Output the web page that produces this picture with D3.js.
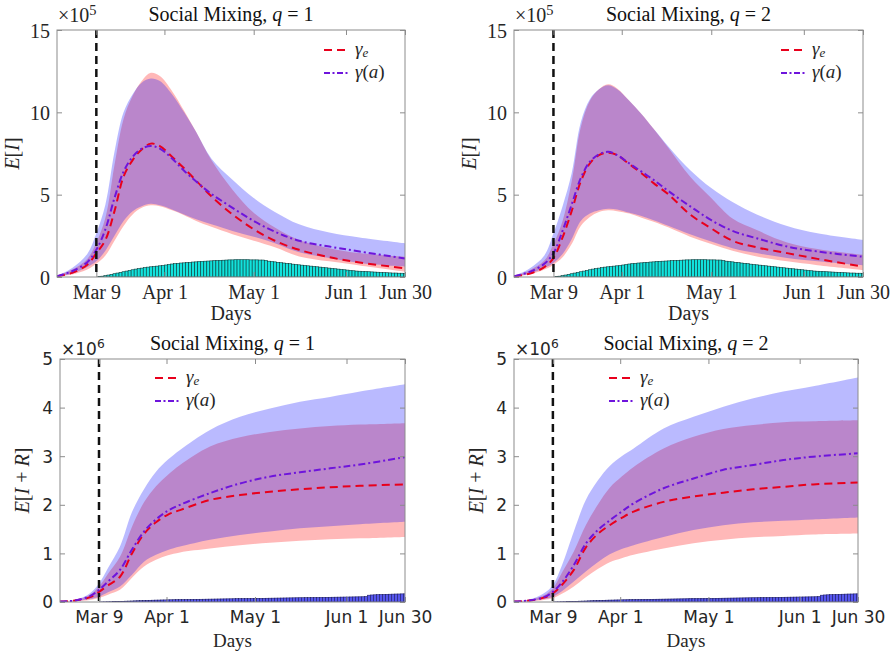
<!DOCTYPE html>
<html>
<head>
<meta charset="utf-8">
<script src="https://cdn.jsdelivr.net/npm/d3@7/dist/d3.min.js"></script>
<style>
body { margin: 0; background: #fff; }
</style>
</head>
<body>
<svg id="chart" width="895" height="653"></svg>
<script>
// days since the start of the simulation (Mar 9 = day 13)
var xTickDays = [13, 35.5, 65, 95.5, 115];
var xTickLabels = ["Mar 9", "Apr 1", "May 1", "Jun 1", "Jun 30"];
var topYTicks = [0, 5, 10, 15];
var bottomYTicks = [0, 1, 2, 3, 4, 5];

// E[I] panels, values in units of 1e5
var topDays = [0, 5, 10, 13, 16, 19, 22, 25, 28, 31, 34, 38, 42, 46, 51, 58, 65, 72, 80, 90, 100, 115];

var q1InfRed    = [0.05, 0.25, 0.75, 1.45, 2.25, 4.0, 6.1, 7.1, 7.75, 8.1, 7.95, 7.3, 6.6, 5.85, 4.9, 3.8, 2.9, 2.2, 1.65, 1.2, 0.88, 0.53];
var q1InfPurple = [0.05, 0.35, 0.9, 1.65, 2.9, 4.8, 6.4, 7.3, 7.8, 7.95, 7.8, 7.2, 6.45, 5.8, 5.05, 4.2, 3.4, 2.75, 2.2, 1.85, 1.55, 1.13];
var q1InfRedLo  = [0.03, 0.15, 0.45, 0.8, 1.3, 2.2, 3.1, 3.8, 4.2, 4.35, 4.3, 4.05, 3.75, 3.4, 3.05, 2.6, 2.2, 1.8, 1.25, 0.95, 0.7, 0.32];
var q1InfRedHi  = [0.05, 0.45, 1.1, 2.1, 3.6, 6.8, 9.6, 11.0, 11.9, 12.4, 12.2, 11.3, 10.1, 8.8, 7.1, 5.3, 3.9, 3.0, 2.25, 1.75, 1.45, 1.23];
var q1InfBlueLo = [0.03, 0.2, 0.6, 0.95, 1.6, 2.5, 3.4, 4.0, 4.3, 4.45, 4.35, 4.1, 3.8, 3.5, 3.2, 2.8, 2.45, 2.05, 1.5, 1.15, 0.85, 0.63];
var q1InfBlueHi = [0.06, 0.55, 1.4, 2.65, 4.4, 7.6, 10.0, 11.1, 11.8, 12.05, 11.9, 11.1, 10.0, 8.8, 7.2, 5.9, 4.8, 3.95, 3.2, 2.7, 2.4, 2.05];

var q2InfRed    = [0.05, 0.2, 0.6, 1.15, 2.4, 4.0, 5.8, 6.9, 7.4, 7.55, 7.4, 6.85, 6.3, 5.7, 5.0, 3.8, 2.95, 2.2, 1.8, 1.45, 1.1, 0.63];
var q2InfPurple = [0.05, 0.3, 0.8, 1.45, 2.8, 4.4, 6.0, 7.0, 7.45, 7.6, 7.4, 6.9, 6.4, 5.9, 5.2, 4.3, 3.45, 2.8, 2.35, 1.85, 1.55, 1.23];
var q2InfRedLo  = [0.02, 0.15, 0.45, 0.75, 1.2, 2.0, 3.1, 3.65, 3.95, 4.05, 4.0, 3.85, 3.6, 3.35, 3.0, 2.45, 2.0, 1.6, 1.25, 0.95, 0.72, 0.43];
var q2InfRedHi  = [0.05, 0.4, 1.0, 2.0, 3.4, 5.8, 9.1, 10.7, 11.4, 11.7, 11.45, 10.7, 9.9, 9.0, 7.8, 6.1, 4.8, 3.55, 2.85, 2.1, 1.7, 1.35];
var q2InfBlueLo = [0.03, 0.2, 0.55, 0.85, 1.4, 2.3, 3.4, 3.85, 4.05, 4.15, 4.1, 3.9, 3.7, 3.45, 3.1, 2.6, 2.15, 1.75, 1.45, 1.15, 0.95, 0.7];
var q2InfBlueHi = [0.06, 0.5, 1.3, 2.65, 4.3, 6.3, 9.4, 10.8, 11.4, 11.65, 11.4, 10.7, 9.9, 9.0, 7.9, 6.5, 5.4, 4.55, 3.8, 3.1, 2.65, 2.25];

// E[I + R] panels, values in units of 1e6
var bottomDays = [0, 5, 10, 13, 16, 20, 24, 28, 32, 36, 40, 50, 60, 70, 80, 90, 100, 115];

var q1CumRed    = [0.01, 0.03, 0.1, 0.21, 0.34, 0.52, 1.0, 1.4, 1.64, 1.8, 1.89, 2.1, 2.2, 2.27, 2.32, 2.36, 2.39, 2.42];
var q1CumPurple = [0.01, 0.03, 0.12, 0.25, 0.42, 0.66, 1.08, 1.45, 1.7, 1.88, 2.0, 2.24, 2.44, 2.58, 2.67, 2.75, 2.83, 2.98];
var q1CumRedLo  = [0.005, 0.015, 0.04, 0.08, 0.15, 0.25, 0.5, 0.73, 0.87, 0.96, 1.02, 1.1, 1.17, 1.22, 1.26, 1.29, 1.31, 1.34];
var q1CumRedHi  = [0.01, 0.04, 0.15, 0.32, 0.58, 0.93, 1.55, 2.05, 2.38, 2.62, 2.82, 3.2, 3.39, 3.5, 3.57, 3.62, 3.65, 3.68];
var q1CumBlueLo = [0.005, 0.02, 0.06, 0.11, 0.2, 0.32, 0.56, 0.83, 0.97, 1.07, 1.14, 1.28, 1.38, 1.45, 1.52, 1.56, 1.6, 1.65];
var q1CumBlueHi = [0.01, 0.04, 0.18, 0.38, 0.7, 1.14, 1.85, 2.32, 2.68, 2.93, 3.13, 3.54, 3.81, 3.98, 4.12, 4.22, 4.33, 4.48];

var q2CumRed    = [0.01, 0.03, 0.09, 0.18, 0.35, 0.66, 1.12, 1.4, 1.58, 1.73, 1.86, 2.06, 2.17, 2.25, 2.32, 2.37, 2.42, 2.46];
var q2CumPurple = [0.01, 0.03, 0.1, 0.21, 0.4, 0.76, 1.2, 1.48, 1.68, 1.86, 2.03, 2.34, 2.54, 2.72, 2.82, 2.92, 2.99, 3.06];
var q2CumRedLo  = [0.005, 0.015, 0.04, 0.08, 0.17, 0.32, 0.51, 0.68, 0.82, 0.9, 0.97, 1.1, 1.21, 1.28, 1.33, 1.36, 1.39, 1.41];
var q2CumRedHi  = [0.01, 0.04, 0.14, 0.28, 0.6, 1.04, 1.58, 2.0, 2.35, 2.58, 2.78, 3.16, 3.4, 3.56, 3.64, 3.7, 3.72, 3.74];
var q2CumBlueLo = [0.005, 0.02, 0.06, 0.11, 0.22, 0.42, 0.63, 0.82, 0.98, 1.09, 1.17, 1.34, 1.48, 1.58, 1.64, 1.67, 1.7, 1.74];
var q2CumBlueHi = [0.01, 0.05, 0.18, 0.35, 0.75, 1.45, 2.1, 2.5, 2.8, 3.0, 3.16, 3.57, 3.81, 4.02, 4.19, 4.33, 4.44, 4.62];

// reported data, one bar per day from day 13 (Mar 9) to day 115
var caseStartDay = 13;
var activeCases = [ // 1e5
	0.00, 0.02, 0.05, 0.08, 0.12, 0.16, 0.20, 0.24, 0.28, 0.32,
	0.36, 0.40, 0.44, 0.48, 0.51, 0.54, 0.57, 0.60, 0.62, 0.64,
	0.66, 0.68, 0.70, 0.73, 0.76, 0.79, 0.81, 0.83, 0.85, 0.86,
	0.88, 0.89, 0.91, 0.92, 0.94, 0.95, 0.96, 0.97, 0.98, 0.99,
	1.00, 1.01, 1.02, 1.03, 1.04, 1.04, 1.05, 1.05, 1.05, 1.05,
	1.05, 1.04, 1.04, 1.04, 1.03, 1.03, 1.00, 0.96, 0.94, 0.92,
	0.89, 0.87, 0.85, 0.83, 0.81, 0.78, 0.76, 0.74, 0.72, 0.70,
	0.68, 0.66, 0.64, 0.62, 0.60, 0.58, 0.56, 0.54, 0.52, 0.50,
	0.48, 0.46, 0.44, 0.42, 0.40, 0.38, 0.36, 0.35, 0.34, 0.33,
	0.32, 0.31, 0.30, 0.29, 0.28, 0.27, 0.26, 0.25, 0.24, 0.24,
	0.23, 0.23, 0.22
];
var cumCases = [ // 1e6
	0.000, 0.002, 0.003, 0.005, 0.006, 0.008, 0.010, 0.012,
	0.014, 0.017, 0.019, 0.021, 0.024, 0.026, 0.028, 0.031, 0.033, 0.035,
	0.037, 0.039, 0.040, 0.042, 0.043, 0.045, 0.046, 0.047, 0.048, 0.049,
	0.050, 0.051, 0.052, 0.053, 0.054, 0.055, 0.056, 0.057, 0.058, 0.059,
	0.060, 0.061, 0.062, 0.063, 0.064, 0.065, 0.066, 0.067, 0.068, 0.069,
	0.069, 0.070, 0.071, 0.072, 0.073, 0.074, 0.075, 0.076, 0.077, 0.078,
	0.079, 0.080, 0.081, 0.082, 0.083, 0.084, 0.085, 0.086, 0.087, 0.088,
	0.088, 0.089, 0.090, 0.091, 0.092, 0.093, 0.094, 0.095, 0.096, 0.097,
	0.098, 0.099, 0.100, 0.101, 0.102, 0.103, 0.104, 0.105, 0.106, 0.107,
	0.108, 0.112, 0.140, 0.145, 0.148, 0.151, 0.154, 0.156, 0.158, 0.160,
	0.162, 0.164, 0.165, 0.167, 0.168
];

var svg = d3.select("#chart");
var serif = "'Liberation Serif', 'DejaVu Serif', serif";
var sans = "'DejaVu Sans', sans-serif";
var smooth = d3.curveCatmullRom.alpha(0.5);
var panelCount = 0;

function drawPanel(p)
{
	var x = d3.scaleLinear().domain([0, 115]).range([p.left, p.right]);
	var y = d3.scaleLinear().domain([0, p.yMax]).range([p.bottom, p.top]);
	var g = svg.append("g");
	var clipId = "clip" + (panelCount++);

	g.append("clipPath").attr("id", clipId)
		.append("rect")
		.attr("x", p.left).attr("y", p.top)
		.attr("width", p.right - p.left).attr("height", p.bottom - p.top);

	var plot = g.append("g").attr("clip-path", "url(#" + clipId + ")");

	var rows = p.days.map(function(d, i)
	{
		return {day: d, red: p.red[i], purple: p.purple[i], redLo: p.redLo[i], redHi: p.redHi[i], blueLo: p.blueLo[i], blueHi: p.blueHi[i]};
	});

	var band = function(lo, hi)
	{
		return d3.area().curve(smooth)
			.x(function(d) { return x(d.day); })
			.y0(function(d) { return y(d[lo]); })
			.y1(function(d) { return y(d[hi]); });
	};

	plot.append("path").datum(rows).attr("d", band("redLo", "redHi"))
		.attr("fill", "#ff0000").attr("fill-opacity", 0.28);
	plot.append("path").datum(rows).attr("d", band("blueLo", "blueHi"))
		.attr("fill", "#0000ff").attr("fill-opacity", 0.27);

	// daily bars
	var barW = x(1) - x(0);
	plot.selectAll("rect.bar").data(p.bars).enter().append("rect")
		.classed("bar", 1)
		.attr("x", function(d, i) { return x(caseStartDay + i - 0.5); })
		.attr("y", function(d) { return y(d); })
		.attr("width", barW)
		.attr("height", function(d) { return y(0) - y(d); })
		.attr("fill", p.barFill)
		.attr("stroke", p.barEdge)
		.attr("stroke-width", 0.6);

	var line = function(key)
	{
		return d3.line().curve(smooth)
			.x(function(d) { return x(d.day); })
			.y(function(d) { return y(d[key]); });
	};

	plot.append("path").datum(rows).attr("d", line("red"))
		.attr("fill", "none").attr("stroke", "#e8001c").attr("stroke-width", 2)
		.attr("stroke-dasharray", "8,5");
	plot.append("path").datum(rows).attr("d", line("purple"))
		.attr("fill", "none").attr("stroke", "#6e14dc").attr("stroke-width", 2)
		.attr("stroke-dasharray", "7,3,2,3");

	// Mar 9 marker
	g.append("line")
		.attr("x1", x(caseStartDay)).attr("x2", x(caseStartDay))
		.attr("y1", p.top).attr("y2", p.bottom)
		.attr("stroke", "#111").attr("stroke-width", 2.5)
		.attr("stroke-dasharray", "8,5");

	// box and inward ticks
	g.append("rect")
		.attr("x", p.left).attr("y", p.top)
		.attr("width", p.right - p.left).attr("height", p.bottom - p.top)
		.attr("fill", "none").attr("stroke", "#8c8c8c").attr("stroke-width", 1);

	var bottomAxis = g.append("g").attr("transform", "translate(0," + p.bottom + ")")
		.call(d3.axisBottom(x).tickValues(xTickDays)
			.tickFormat(function(d, i) { return xTickLabels[i]; })
			.tickSizeInner(-5).tickSizeOuter(0));
	var topAxis = g.append("g").attr("transform", "translate(0," + p.top + ")")
		.call(d3.axisTop(x).tickValues(xTickDays).tickFormat("").tickSizeInner(-5).tickSizeOuter(0));
	var leftAxis = g.append("g").attr("transform", "translate(" + p.left + ",0)")
		.call(d3.axisLeft(y).tickValues(p.yTicks).tickFormat(d3.format("d")).tickSizeInner(-5).tickSizeOuter(0));
	var rightAxis = g.append("g").attr("transform", "translate(" + p.right + ",0)")
		.call(d3.axisRight(y).tickValues(p.yTicks).tickFormat("").tickSizeInner(-5).tickSizeOuter(0));

	[bottomAxis, topAxis, leftAxis, rightAxis].forEach(function(a)
	{
		a.select(".domain").remove();
		a.selectAll(".tick line").attr("stroke", "#8c8c8c");
		a.selectAll("text").attr("fill", "#262626");
	});

	bottomAxis.attr("font-family", p.tickFont).attr("font-size", p.tickSize);
	bottomAxis.selectAll("text").attr("dy", null).attr("y", p.xLabelDy);
	leftAxis.attr("font-family", p.tickFont).attr("font-size", p.tickSize);
	leftAxis.selectAll("text").attr("x", -7).attr("dy", "0.35em");

	// exponent
	var expo = g.append("text")
		.attr("x", p.left + 1).attr("y", p.top - p.expoDy)
		.attr("font-family", p.tickFont).attr("font-size", p.expoSize)
		.attr("fill", "#262626");
	expo.append("tspan").text("\u00d710");
	expo.append("tspan").attr("dy", -7).attr("font-size", p.expoSize * 0.72).text(p.expo);

	// title
	var title = g.append("text")
		.attr("x", (p.left + p.right) / 2).attr("y", p.top - 9)
		.attr("text-anchor", "middle")
		.attr("font-family", serif).attr("font-size", 20).attr("fill", "#111");
	title.append("tspan").text("Social Mixing, ");
	title.append("tspan").attr("font-style", "italic").text("q");
	title.append("tspan").text(" = " + p.q);

	// x label
	g.append("text")
		.attr("x", (p.left + p.right) / 2).attr("y", p.bottom + p.daysDy)
		.attr("text-anchor", "middle")
		.attr("font-family", serif).attr("font-size", p.daysSize).attr("fill", "#262626")
		.text("Days");

	// y label
	var yl = g.append("text")
		.attr("transform", "translate(" + (p.left - p.yLabelDx) + "," + ((p.top + p.bottom) / 2) + ") rotate(-90)")
		.attr("text-anchor", "middle")
		.attr("font-family", serif).attr("font-size", 20).attr("fill", "#262626");
	p.yLabel.forEach(function(part)
	{
		yl.append("tspan").attr("font-style", part[1] ? "italic" : "normal").text(part[0]);
	});

	// legend
	var lx = p.left + p.legendDx;
	var ly = p.top + p.legendDy;
	var leg = g.append("g");
	leg.append("line").attr("x1", lx).attr("x2", lx + 25).attr("y1", ly).attr("y2", ly)
		.attr("stroke", "#e8001c").attr("stroke-width", 2).attr("stroke-dasharray", "8,5");
	leg.append("line").attr("x1", lx).attr("x2", lx + 25).attr("y1", ly + 23).attr("y2", ly + 23)
		.attr("stroke", "#6e14dc").attr("stroke-width", 2).attr("stroke-dasharray", "6,2.5,2,2.5");

	var t1 = leg.append("text").attr("x", lx + 31).attr("y", ly + 5)
		.attr("font-family", serif).attr("font-size", 19).attr("fill", "#262626");
	t1.append("tspan").attr("font-style", "italic").text("\u03b3");
	t1.append("tspan").attr("font-style", "italic").attr("font-size", 13).attr("dy", 2).text("e");

	var t2 = leg.append("text").attr("x", lx + 31).attr("y", ly + 28)
		.attr("font-family", serif).attr("font-size", 19).attr("fill", "#262626");
	t2.append("tspan").attr("font-style", "italic").text("\u03b3");
	t2.append("tspan").text("(");
	t2.append("tspan").attr("font-style", "italic").text("a");
	t2.append("tspan").text(")");
}

var topCommon = {
	yMax: 15, yTicks: topYTicks, days: topDays, top: 30, bottom: 277,
	bars: activeCases, barFill: "#12e2dc", barEdge: "#0b3a3a",
	tickFont: serif, tickSize: 20, expoSize: 20, xLabelDy: 22, expoDy: 8, expo: "5",
	daysDy: 43, daysSize: 20,
	yLabel: [["E", 1], ["[", 0], ["I", 1], ["]", 0]], yLabelDx: 38,
	legendDx: 267, legendDy: 20
};
var bottomCommon = {
	yMax: 5, yTicks: bottomYTicks, days: bottomDays, top: 359, bottom: 602,
	bars: cumCases, barFill: "#5656ee", barEdge: "#1c1c66",
	tickFont: sans, tickSize: 17, expoSize: 17, xLabelDy: 21, expoDy: 4, expo: "6",
	daysDy: 45, daysSize: 19,
	yLabel: [["E", 1], ["[", 0], ["I", 1], [" + ", 0], ["R", 1], ["]", 0]], yLabelDx: 31,
	legendDx: 95, legendDy: 19
};

drawPanel(Object.assign({}, topCommon, {left: 57, right: 405, q: 1,
	red: q1InfRed, purple: q1InfPurple, redLo: q1InfRedLo, redHi: q1InfRedHi, blueLo: q1InfBlueLo, blueHi: q1InfBlueHi}));
drawPanel(Object.assign({}, topCommon, {left: 514, right: 863, q: 2,
	red: q2InfRed, purple: q2InfPurple, redLo: q2InfRedLo, redHi: q2InfRedHi, blueLo: q2InfBlueLo, blueHi: q2InfBlueHi}));
drawPanel(Object.assign({}, bottomCommon, {left: 60, right: 405, q: 1,
	red: q1CumRed, purple: q1CumPurple, redLo: q1CumRedLo, redHi: q1CumRedHi, blueLo: q1CumBlueLo, blueHi: q1CumBlueHi}));
drawPanel(Object.assign({}, bottomCommon, {left: 514, right: 858, q: 2,
	red: q2CumRed, purple: q2CumPurple, redLo: q2CumRedLo, redHi: q2CumRedHi, blueLo: q2CumBlueLo, blueHi: q2CumBlueHi}));
</script>
</body>
</html>
